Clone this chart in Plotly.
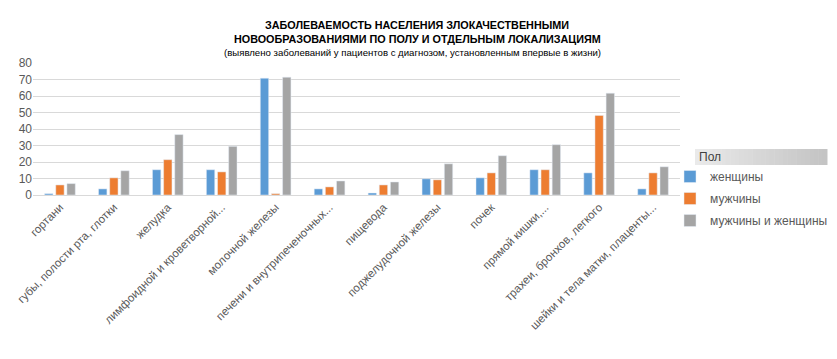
import plotly.graph_objects as go

categories = ["гортани", "губы, полости рта, глотки", "желудка", "лимфоидной и кроветворной...",
              "молочной железы", "печени и внутрипеченочных...", "пищевода", "поджелудочной железы",
              "почек", "прямой кишки,...", "трахеи, бронхов, легкого", "шейки и тела матки, плаценты..."]
women = [0.8, 3.7, 15.3, 15.3, 70.8, 3.7, 1.2, 9.8, 10.4, 15.3, 13.4, 3.7]
men = [6.1, 10.4, 21.4, 14.0, 0.8, 4.9, 6.1, 9.2, 13.4, 15.3, 48.2, 13.4]
both = [6.9, 14.7, 36.6, 29.5, 71.4, 8.5, 7.9, 18.9, 23.8, 30.5, 61.7, 17.1]
series_names = ["женщины", "мужчины", "мужчины и женщины"]
colors = ["#5B9BD5", "#ED7D31", "#A5A5A5"]
y_ticks = [0, 10, 20, 30, 40, 50, 60, 70, 80]
legend_title = "Пол"

OFF = 8  # default page body margin
W, H = 837 - OFF, 359 - OFF
# plot area in screen pixels: x 33..680, y 63..195
L = 33 - OFF
T = 63 - OFF
R = 837 - 680
B = 359 - 195
pw, ph = W - L - R, H - T - B

def px_x(x):
    return (x - OFF - L) / pw

def px_y(y):
    return (H - B - (y - OFF)) / ph

fig = go.Figure()
for i, (name, vals) in enumerate(zip(series_names, [women, men, both])):
    fig.add_trace(go.Bar(x=categories, y=vals, name=name, marker_color=colors[i],
                         legendgroup=name))

shapes = []
# gradient header bar for legend title
x0, x1 = 695, 827
n = 30
for k in range(n):
    c = int(234 - (234 - 196) * k / (n - 1))
    shapes.append(dict(type="rect", xref="paper", yref="paper",
                       x0=px_x(x0 + (x1 - x0) * k / n), x1=px_x(x0 + (x1 - x0) * (k + 1) / n + 0.5),
                       y0=px_y(165), y1=px_y(149), line_width=0,
                       fillcolor=f"rgb({c},{c},{c})", layer="below"))

annotations = [
    dict(text="<b>ЗАБОЛЕВАЕМОСТЬ НАСЕЛЕНИЯ ЗЛОКАЧЕСТВЕННЫМИ</b>", x=px_x(417), y=px_y(17),
         xref="paper", yref="paper", showarrow=False, font=dict(size=10.8, color="#000000")),
    dict(text="<b>НОВООБРАЗОВАНИЯМИ ПО ПОЛУ И ОТДЕЛЬНЫМ ЛОКАЛИЗАЦИЯМ</b>", x=px_x(417), y=px_y(31),
         xref="paper", yref="paper", showarrow=False, font=dict(size=10.8, color="#000000")),
    dict(text="(выявлено заболеваний у пациентов с диагнозом, установленным впервые в жизни)",
         x=px_x(412), y=px_y(45), xref="paper", yref="paper", showarrow=False,
         font=dict(size=9.6, color="#000000")),
    dict(text=legend_title, x=px_x(697), y=px_y(157), xanchor="left", yanchor="middle",
         xref="paper", yref="paper", showarrow=False, font=dict(size=12, color="#404040")),
]

fig.update_layout(
    width=W, height=H,
    margin=dict(l=L, r=R, t=T, b=B, pad=0, autoexpand=False),
    paper_bgcolor="white", plot_bgcolor="white",
    font=dict(family="Arial, Liberation Sans, sans-serif", color="#595959", size=11),
    barmode="group", bargap=0.38, bargroupgap=0.25,
    showlegend=True,
    legend=dict(x=px_x(670), y=px_y(162), xanchor="left", yanchor="top",
                font=dict(size=12, color="#595959"),
                traceorder="grouped", tracegroupgap=3, itemwidth=30,
                bgcolor="rgba(0,0,0,0)"),
    shapes=shapes,
    annotations=annotations,
)
fig.update_yaxes(range=[0, 80], tickvals=y_ticks, showgrid=True, gridcolor="#D9D9D9",
                 gridwidth=1, zeroline=False, showline=False, tickfont=dict(size=12, color="#595959"),
                 ticks="", ticklen=0, automargin=False)
fig.update_xaxes(tickangle=-45, showline=True, linecolor="#D9D9D9", linewidth=1, ticks="",
                 tickfont=dict(size=11.5, color="#595959"), automargin=False)

fig.write_html("out.html")
